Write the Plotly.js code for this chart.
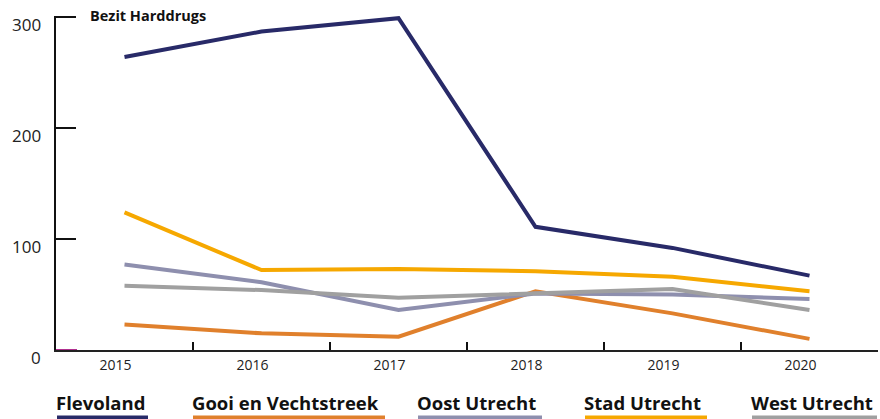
<!DOCTYPE html>
<html>
<head>
<meta charset="utf-8">
<script src="https://cdn.plot.ly/plotly-3.0.1.min.js"></script>
<style>
html,body{margin:0;padding:0;background:#fff;}
#chart{width:880px;height:419px;}
</style>
</head>
<body>
<div id="chart"></div>
<script>
const years = ["2015", "2016", "2017", "2018", "2019", "2020"];
const seriesNames = ["Flevoland", "Gooi en Vechtstreek", "Oost Utrecht", "Stad Utrecht", "West Utrecht"];
const flevoland = [264, 287, 299, 111, 92, 67];
const gooi = [23, 15, 12, 53, 33, 10];
const oostUtrecht = [77, 61, 36, 51, 50, 46];
const stadUtrecht = [124, 72, 73, 71, 66, 53];
const westUtrecht = [58, 54, 47, 51, 55, 36];
const yTicks = [0, 100, 200, 300];
const chartTitle = "Bezit Harddrugs";

const colors = ["#282a68", "#e0802c", "#8e8fae", "#f6a800", "#a0a0a0"];
const values = [flevoland, gooi, oostUtrecht, stadUtrecht, westUtrecht];

const traces = values.map((v, i) => ({
  x: years,
  y: v,
  type: "scatter",
  mode: "lines",
  name: seriesNames[i],
  line: {color: colors[i], width: 4},
  showlegend: false
}));

const W = 880, H = 419, L = 56, R = 2, T = 16, B = 69;
const pw = W - L - R, ph = H - T - B;
const px2x = p => (p - L) / pw;
const px2y = p => (H - B - p) / ph;

// legend drawn as text with coloured underline
const legendStart = [57, 193, 418, 585, 752];
const legendEnd = [148, 385, 542, 707, 877];
const annotations = seriesNames.map((n, i) => ({
  text: "<b>" + n + "</b>",
  xref: "paper", yref: "paper",
  x: px2x(legendStart[i] - 3) , y: px2y(402),
  xanchor: "left", yanchor: "middle",
  showarrow: false,
  font: {family: "Open Sans, sans-serif", size: 18.5, color: "#111"}
}));
// y tick labels (placed slightly below their ticks, as in the original)
yTicks.forEach(t => annotations.push({
  text: String(t),
  xref: "paper", yref: "y",
  x: px2x(43), y: t, yshift: -7,
  xanchor: "right", yanchor: "middle",
  showarrow: false,
  font: {family: "Open Sans, sans-serif", size: 17, color: "#222"}
}));
const shapes = seriesNames.map((n, i) => ({
  type: "line", xref: "paper", yref: "paper",
  x0: px2x(legendStart[i]), x1: px2x(legendEnd[i]),
  y0: px2y(418), y1: px2y(418),
  line: {color: colors[i], width: 5}
}));
shapes.push({
  type: "line", xref: "paper", yref: "y",
  x0: 0, x1: px2x(77), y0: 0, y1: 0,
  line: {color: "#b0308f", width: 2}
});

const layout = {
  width: W, height: H,
  margin: {l: L, r: R, t: T, b: B},
  paper_bgcolor: "#fff", plot_bgcolor: "#fff",
  title: {
    text: "<b>" + chartTitle + "</b>",
    x: 90 / W, xanchor: "left", xref: "container",
    y: 1 - 16 / H, yanchor: "middle", yref: "container",
    font: {family: "Open Sans, sans-serif", size: 14.5, color: "#111"}
  },
  xaxis: {
    type: "category",
    tickson: "boundaries",
    ticks: "inside", ticklen: 8, tickwidth: 1.5, tickcolor: "#111",
    showline: true, linecolor: "#222", linewidth: 1.5,
    showgrid: false, zeroline: false,
    ticklabelshift: -9,
    ticklabelstandoff: 2,
    tickfont: {family: "Open Sans, sans-serif", size: 14, color: "#222"},
    range: [-0.5, 5.5],
    fixedrange: true
  },
  yaxis: {
    range: [0, 301],
    tickvals: yTicks,
    showticklabels: false,
    ticks: "inside", ticklen: 20, tickwidth: 2, tickcolor: "#111",
    showline: true, linecolor: "#111", linewidth: 2,
    showgrid: false, zeroline: false,
    fixedrange: true
  },
  annotations: annotations,
  shapes: shapes,
  showlegend: false
};

Plotly.newPlot("chart", traces, layout, {displayModeBar: false, staticPlot: true});
</script>
</body>
</html>
